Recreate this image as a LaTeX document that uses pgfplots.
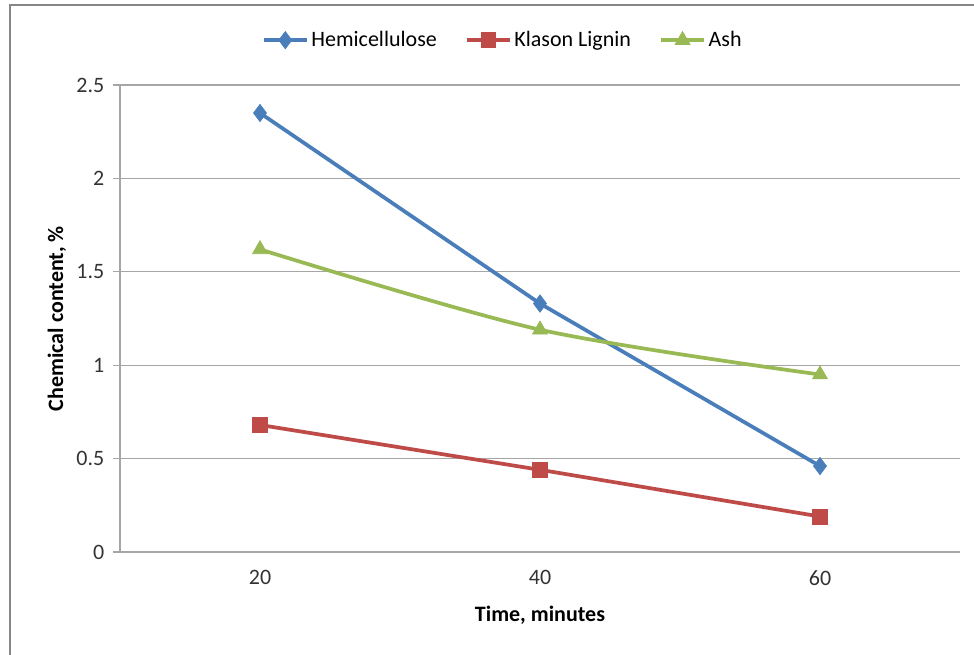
\documentclass[border=0pt]{standalone}
\usepackage{fontspec}
\setmainfont{Carlito}
\usepackage{pgfplots}
\pgfplotsset{compat=1.18}

\definecolor{hemiblue}{HTML}{4A7EBB}
\definecolor{ligred}{HTML}{BE4B48}
\definecolor{ashgreen}{HTML}{98B954}
\definecolor{framegray}{HTML}{868686}
\definecolor{gridgray}{HTML}{A6A6A6}
\definecolor{ticktext}{HTML}{333333}

\begin{document}
\begin{tikzpicture}
  \begin{axis}[
    anchor=origin,
    scale only axis,
    width=630pt, height=350.25pt,
    xmin=0, xmax=3, ymin=0, ymax=2.5,
    xtick={0.5,1.5,2.5},
    xticklabels={20,40,60},
    ytick={0,0.5,...,2.5},
    yticklabels={0,0.5,1,1.5,2,2.5},
    axis x line*=bottom,
    axis y line*=left,
    axis line style={gridgray,line width=0.9pt,-},
    ymajorgrids,
    grid style={gridgray,line width=0.9pt},
    xtick style={draw=none},
    ytick style={gridgray,line width=0.9pt},
    tick align=outside,
    major tick length=5.25pt,
    tick label style={font=\fontsize{16.5}{19}\selectfont, text=ticktext},
    /pgf/number format/assume math mode=true,
    xticklabel style={yshift=-5pt},
    yticklabel style={xshift=-3pt},
    xlabel={Time, minutes},
    ylabel={Chemical content, \%},
    label style={font=\fontsize{16.5}{19}\selectfont\bfseries},
    xlabel style={at={(axis description cs:0.5,-0.135)},anchor=center},
    ylabel style={at={(axis description cs:-0.075,0.5)},anchor=center},
    legend columns=3,
    legend style={
      at={(axis description cs:0.456,1.096)}, anchor=center,
      draw=none, fill=none,
      font=\fontsize{16.5}{19}\selectfont,
      /tikz/every even column/.append style={column sep=19pt},
    },
    legend image code/.code={
      \draw[mark repeat=2,mark phase=2]
        plot coordinates {(0cm,0cm) (0.57cm,0cm) (1.14cm,0cm)};
    },
  ]
    \addplot[hemiblue, line width=2.8pt, mark=diamond*, mark size=6.5pt,
             mark options={solid,line width=0.5pt}]
      coordinates {(0.5,2.35) (1.5,1.33) (2.5,0.46)};
    \addlegendentry{Hemicellulose}

    \addplot[ligred, line width=2.8pt, mark=square*, mark size=5.5pt,
             mark options={solid,line width=0.5pt}]
      coordinates {(0.5,0.68) (1.5,0.44) (2.5,0.19)};
    \addlegendentry{Klason Lignin}

    \addplot[ashgreen, line width=2.8pt, smooth, mark=triangle*, mark size=6.5pt,
             mark options={solid,line width=0.5pt}]
      coordinates {(0.5,1.62) (1.5,1.19) (2.5,0.95)};
    \addlegendentry{Ash}
  \end{axis}

  % page area and chart frame, in pixel-sized units around the plot area
  \begin{scope}[x=0.75pt,y=0.75pt]
    \pgfresetboundingbox
    \path[use as bounding box] (-120,-103) rectangle (854,552);
    \draw[framegray,line width=1.6pt] (-110,-103) -- (-110,547) -- (854,547);
  \end{scope}
\end{tikzpicture}
\end{document}
